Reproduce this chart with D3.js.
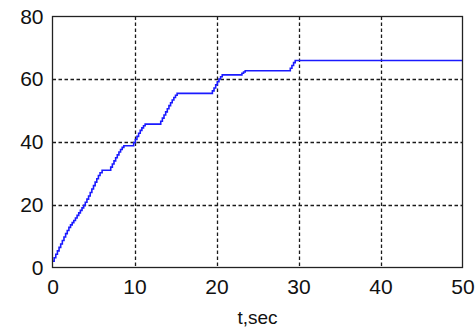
<!DOCTYPE html>
<html>
<head>
<meta charset="utf-8">
<script src="https://cdn.jsdelivr.net/npm/d3@7"></script>
<style>
  html, body { margin: 0; padding: 0; background: #fff; }
  svg { display: block; }
  .tick-label { font-family: "Liberation Sans", Arial, sans-serif; font-size: 21px; fill: #111; }
</style>
</head>
<body>
<svg id="chart" width="476" height="332"></svg>
<script>
// Response over time: stepwise rise that settles near 66.
const timeSec = [0, 0.2, 0.4, 0.6, 0.8, 1.0, 1.2, 1.4, 1.6, 1.8, 2.0, 2.2, 2.4, 2.6, 2.8, 3.0,
                 3.2, 3.4, 3.6, 3.8, 4.0, 4.2, 4.4, 4.6, 4.8, 5.0, 5.2, 5.4, 5.6, 5.8, 6.05,
                 7.1, 7.3, 7.5, 7.7, 7.9, 8.1, 8.3, 8.5, 8.7,
                 9.9, 10.1, 10.3, 10.5, 10.7, 10.9, 11.1, 11.3,
                 13.2, 13.4, 13.6, 13.8, 14.0, 14.2, 14.4, 14.6, 14.8, 15.0, 15.2,
                 19.5, 19.7, 19.9, 20.1, 20.3, 20.5, 20.7,
                 23.1, 23.3, 23.5,
                 29.0, 29.2, 29.4, 29.6,
                 50];
const response = [2, 3.1, 4.2, 5.3, 6.4, 7.5, 8.6, 9.7, 10.8, 11.8, 12.8, 13.6, 14.3, 15, 15.8, 16.6,
                  17.4, 18.2, 19, 19.8, 20.8, 21.8, 22.8, 23.9, 25, 26.1, 27.2, 28.3, 29.3, 30.2, 31,
                  32, 33, 34, 35, 35.9, 36.8, 37.6, 38.3, 38.8,
                  39.8, 40.8, 41.8, 42.8, 43.7, 44.5, 45.2, 45.7,
                  46.6, 47.6, 48.6, 49.6, 50.6, 51.6, 52.5, 53.4, 54.2, 54.9, 55.5,
                  56.3, 57.2, 58.2, 59.2, 60.1, 60.8, 61.4,
                  61.9, 62.3, 62.7,
                  63.5, 64.4, 65.3, 66,
                  66];
const xTicks = [0, 10, 20, 30, 40, 50];
const yTicks = [0, 20, 40, 60, 80];
const xLabel = "t,sec";

const svg = d3.select("#chart");
const plotLeft = 52.5, plotRight = 462.5, plotTop = 16.5, plotBottom = 267.5;

const x = d3.scaleLinear().domain([0, 50]).range([plotLeft, plotRight]);
const y = d3.scaleLinear().domain([0, 80]).range([plotBottom, plotTop]);

// dashed grid
const grid = svg.append("g").attr("stroke", "#1a1a1a").attr("stroke-width", 1.3)
  .attr("stroke-dasharray", "3.5,2.5").attr("fill", "none");
grid.selectAll("line.gx").data(xTicks.slice(1, -1)).join("line")
  .attr("x1", d => Math.round(x(d)) + 0.5).attr("x2", d => Math.round(x(d)) + 0.5)
  .attr("y1", plotTop).attr("y2", plotBottom);
grid.selectAll("line.gy").data(yTicks.slice(1, -1)).join("line")
  .attr("y1", d => Math.round(y(d)) + 0.5).attr("y2", d => Math.round(y(d)) + 0.5)
  .attr("x1", plotLeft).attr("x2", plotRight);

// data line
const line = d3.line()
  .x((d, i) => x(timeSec[i]))
  .y((d, i) => y(response[i]))
  .curve(d3.curveStepAfter);
svg.append("path")
  .datum(response)
  .attr("d", line)
  .attr("fill", "none")
  .attr("stroke", "#1a1aff")
  .attr("stroke-width", 1.6);

// axes box
svg.append("rect")
  .attr("x", plotLeft).attr("y", plotTop)
  .attr("width", plotRight - plotLeft).attr("height", plotBottom - plotTop)
  .attr("fill", "none").attr("stroke", "#222").attr("stroke-width", 1.3);

// tick labels via d3 axes without lines
const xAxis = svg.append("g").attr("transform", `translate(0,${plotBottom})`)
  .call(d3.axisBottom(x).tickValues(xTicks).tickSize(0).tickPadding(12).tickFormat(d3.format("d")));
const yAxis = svg.append("g").attr("transform", `translate(${plotLeft},0)`)
  .call(d3.axisLeft(y).tickValues(yTicks).tickSize(0).tickPadding(9).tickFormat(d3.format("d")));
[xAxis, yAxis].forEach(a => {
  a.select(".domain").remove();
  a.selectAll("text").attr("class", "tick-label").attr("font-size", null).attr("font-family", null);
});

svg.append("text")
  .attr("class", "tick-label")
  .attr("x", (plotLeft + plotRight) / 2)
  .attr("y", 324)
  .attr("text-anchor", "middle")
  .style("font-size", "19px")
  .text(xLabel);
</script>
</body>
</html>
